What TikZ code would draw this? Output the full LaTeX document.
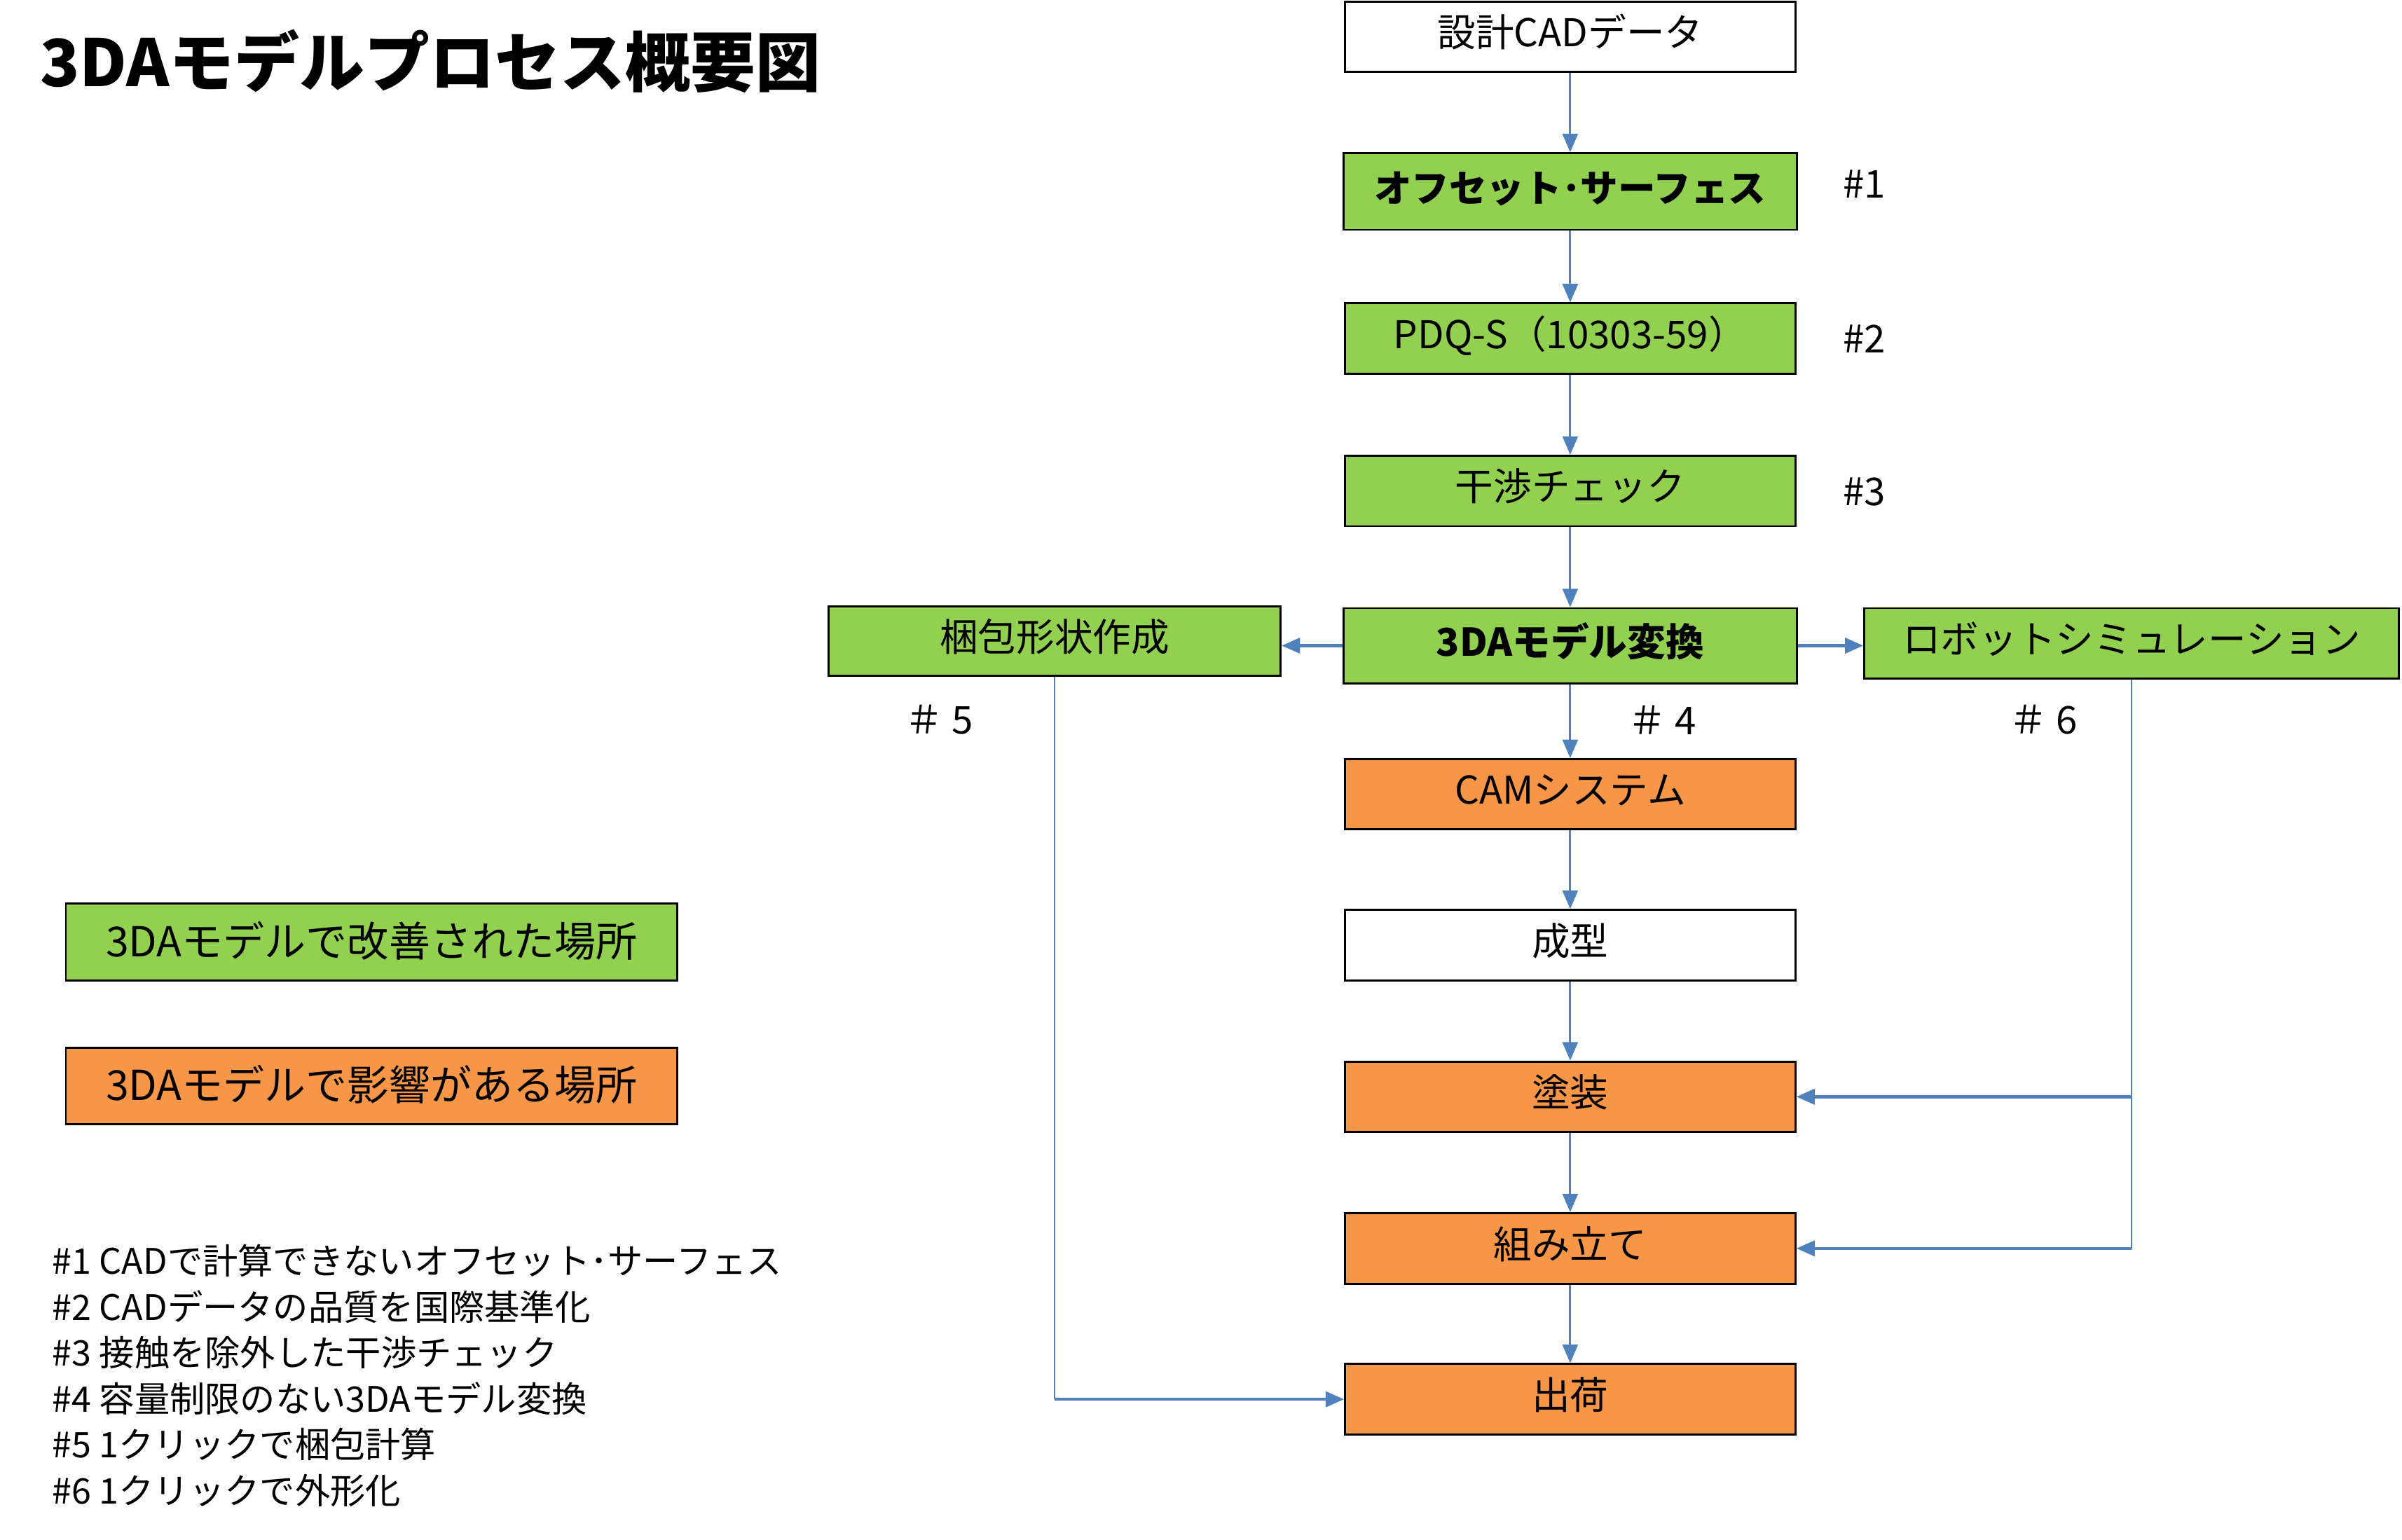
\documentclass[tikz,border=0pt]{standalone}
\usepackage{fontspec}
\setmainfont{Noto Sans CJK JP}
\usetikzlibrary{arrows.meta}
\definecolor{cgreen}{HTML}{92D050}
\definecolor{corange}{HTML}{F79646}
\definecolor{cblue}{HTML}{4F81BD}

\begin{document}
\begin{tikzpicture}[x=1pt, y=-1pt]
\tikzset{ >={Triangle[length=12pt,width=10pt]}, inner sep=0pt,
  box/.style={draw=black, line width=1.3pt, minimum width=294pt, minimum height=46pt, text height=18pt, text depth=5pt, font=\fontsize{25}{30}\selectfont},
  legend/.style={box, minimum width=399pt, minimum height=50pt, text height=23pt, text depth=4pt, font=\fontsize{27}{30}\selectfont},
  flow/.style={cblue, line width=1.3pt},
  wide/.style={cblue, line width=2pt},
  wire/.style={cblue, line width=0.9pt},
  tag/.style={font=\fontsize{25}{28}\selectfont},
  note/.style={anchor=west, font=\fontsize{23}{26}\selectfont},
}
\useasboundingbox (0,0) rectangle (1568,1005);
%\draw [lightgray, dashed](0,0) grid[step=100] (1568,1005);

\node [anchor=west, font=\fontsize{42.5}{48}\selectfont\bfseries] (TTL) at (26,40) {3DAモデルプロセス概要図};

% main column
\node [box, fill=white]   (CAD) at (1025,24)    {設計CADデータ};
\node [box, fill=cgreen, minimum width=296pt, minimum height=50pt, text height=19pt, text depth=5pt, font=\fontsize{24.5}{30}\selectfont\bfseries] (OFS) at (1025,125) {オフセット･サーフェス};
\node [box, fill=cgreen]  (PDQ) at (1025,221)   {PDQ-S（10303-59）};
\node [box, fill=cgreen]  (CHK) at (1025,320.5) {干渉チェック};
\node [box, fill=cgreen, minimum width=296pt, minimum height=49pt, text height=19pt, text depth=5pt, font=\fontsize{25}{30}\selectfont\bfseries] (MDL) at (1025,421.5) {3DAモデル変換};
\node [box, fill=corange] (CAM) at (1025,518.5) {CAMシステム};
\node [box, fill=white]   (MLD) at (1025,617)   {成型};
\node [box, fill=corange] (PNT) at (1025,716)   {塗装};
\node [box, fill=corange] (ASM) at (1025,815)   {組み立て};
\node [box, fill=corange] (SHP) at (1025,913.5) {出荷};

% side boxes
\node [box, fill=cgreen, minimum width=295pt, minimum height=45pt] (PKG) at (688.5,418.5) {梱包形状作成};
\node [box, fill=cgreen, minimum width=349pt] (ROB) at (1391.5,420) {ロボットシミュレーション};

% legend
\node [legend, fill=cgreen]  (LGG) at (242.5,615) {3DAモデルで改善された場所};
\node [legend, fill=corange] (LGO) at (242.5,709) {3DAモデルで影響がある場所};

\node [tag] (T1) at (1217,120) {\#1};
\node [tag] (T2) at (1217,221) {\#2};
\node [tag] (T3) at (1217,321) {\#3};
\node [tag] (T4) at (1085,470) {＃ 4};
\node [tag] (T5) at (613,470)  {＃ 5};
\node [tag] (T6) at (1334,470) {＃ 6};

\node [note] (N1) at (34,823) {\#1 CADで計算できないオフセット･サーフェス};
\node [note] (N2) at (34,853) {\#2 CADデータの品質を国際基準化};
\node [note] (N3) at (34,883) {\#3 接触を除外した干渉チェック};
\node [note] (N4) at (34,913) {\#4 容量制限のない3DAモデル変換};
\node [note] (N5) at (34,943) {\#5 1クリックで梱包計算};
\node [note] (N6) at (34,973) {\#6 1クリックで外形化};

\draw [->, flow] (CAD) -- (OFS);
\draw [->, flow] (OFS) -- (PDQ);
\draw [->, flow] (PDQ) -- (CHK);
\draw [->, flow] (CHK) -- (MDL);
\draw [->, flow] (MDL) -- (CAM);
\draw [->, flow] (CAM) -- (MLD);
\draw [->, flow] (MLD) -- (PNT);
\draw [->, flow] (PNT) -- (ASM);
\draw [->, flow] (ASM) -- (SHP);

\draw [->, wide] (MDL.west) -- (MDL.west -| PKG.east);
\draw [->, wide] (MDL.east) -- (MDL.east -| ROB.west);

\coordinate (J5) at (PKG.south |- SHP.west);
\coordinate (JP) at (ROB.south |- PNT.east);
\coordinate (JA) at (ROB.south |- ASM.east);
\draw [wire] (PKG.south) -- (J5);
\draw [->, wide] (J5) -- (SHP.west);
\draw [wire] (ROB.south) -- (JA);
\draw [->, wide] (JP) -- (PNT.east);
\draw [->, wide] (JA) -- (ASM.east);

\end{tikzpicture}
\end{document}
